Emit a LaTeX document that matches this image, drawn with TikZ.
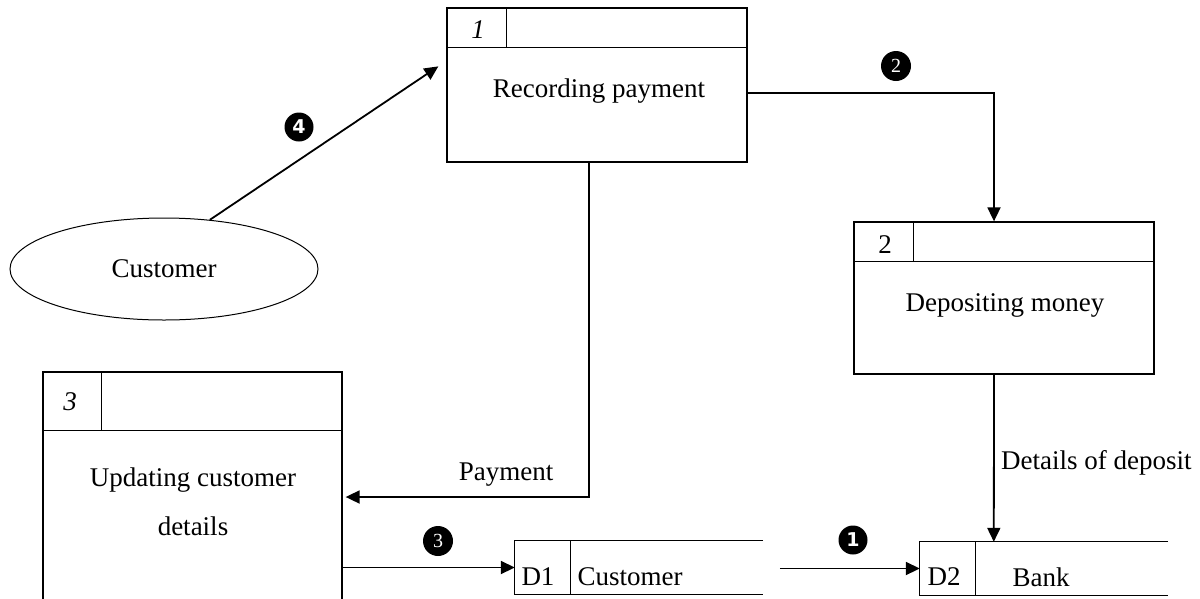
\documentclass[tikz,border=0pt]{standalone}
\usepackage{fontspec}
\setmainfont{Liberation Serif}
\newfontfamily\dvsans{DejaVu Sans}
\usetikzlibrary{shapes.geometric,arrows.meta,calc}
\begin{document}
\begin{tikzpicture}[x=1pt,y=-1pt,
  every node/.style={font=\fontsize{27}{32}\selectfont},
  proc/.style={draw,line width=1.3pt,rectangle,minimum width=300pt,inner sep=0pt},
  hdr/.style={line width=1.3pt},
  store/.style={rectangle,minimum width=248pt,minimum height=53pt,inner sep=0pt},
  storeline/.style={line width=1pt},
  flow/.style={line width=1.8pt,-{Triangle[length=14pt,width=13pt]}},
  numsans/.style={circle,fill=black,text=white,inner sep=0pt,minimum size=29pt,font=\dvsans\bfseries\fontsize{19}{19}\selectfont},
  numserif/.style={circle,fill=black,text=white,inner sep=0pt,minimum size=30pt,font=\fontsize{20}{20}\selectfont},
  lbl/.style={inner sep=0pt}]
\clip (0,0) rectangle (1200,598);
\fill[white] (0,0) rectangle (1200,598);

% process 1
\node[proc,minimum height=154pt] (p1) at (597,85) {};
\draw[hdr] ($(p1.north west)+(0,40)$) -- ($(p1.north east)+(0,40)$);
\draw[hdr] ($(p1.north west)+(60,0)$) -- ($(p1.north west)+(60,40)$);
\node[lbl,font=\itshape\fontsize{27}{32}\selectfont] (p1n) at (478,30) {1};
\node[lbl] (p1t) at (599,91) {Recording payment};

% process 2
\node[proc,minimum height=152pt] (p2) at (1004,298) {};
\draw[hdr] ($(p2.north west)+(0,40)$) -- ($(p2.north east)+(0,40)$);
\draw[hdr] ($(p2.north west)+(60,0)$) -- ($(p2.north west)+(60,40)$);
\node[lbl] (p2n) at (885,245) {2};
\node[lbl] (p2t) at (1005,305) {Depositing money};

% process 3
\node[proc,minimum width=299pt,minimum height=238pt] (p3) at (192.5,491) {};
\draw[hdr] ($(p3.north west)+(0,59)$) -- ($(p3.north east)+(0,59)$);
\draw[hdr] ($(p3.north west)+(59,0)$) -- ($(p3.north west)+(59,59)$);
\node[lbl,font=\itshape\fontsize{27}{32}\selectfont] (p3n) at (70,402) {3};
\node[lbl] (p3t1) at (193,480) {Updating customer};
\node[lbl] (p3t2) at (193,526) {details};

% external entity
\node[draw,ellipse,line width=1pt,inner sep=0pt,minimum width=308pt,minimum height=102pt] (cust) at (164,269) {Customer};

% data stores
\node[store] (d1) at (639,567.5) {};
\draw[storeline] (d1.north east) -- (d1.north west) -- (d1.south west) -- (d1.south east);
\draw[storeline] ($(d1.north west)+(56,0)$) -- ($(d1.south west)+(56,0)$);
\node[lbl] (d1n) at (538,577) {D1};
\node[lbl] (d1t) at (630,577) {Customer};

\node[store] (d2) at (1044,568.5) {};
\draw[storeline] (d2.north east) -- (d2.north west) -- (d2.south west) -- (d2.south east);
\draw[storeline] ($(d2.north west)+(56,0)$) -- ($(d2.south west)+(56,0)$);
\node[lbl] (d2n) at (944,577) {D2};
\node[lbl] (d2t) at (1041,577) {Bank};

% flows
\draw[flow] (cust.47) -- ($(p1.north west)+(-8,59)$);
\node[numsans] (n4) at (299,127) {4};

\coordinate (f2a) at ($(p1.east)+(0,8)$);
\draw[flow] (f2a) -| ($(p2.north)+(-10,0)$);
\node[numserif] (n2) at (896,66) {2};

\coordinate (fpa) at ($(p1.south)+(-8,0)$);
\coordinate (fpb) at ($(p3.east)+(3,6)$);
\draw[flow] (fpa) |- (fpb);
\node[lbl] (pay) at (506,475) {Payment};

\draw[flow] (p3.east |- d1.west) -- (d1.west);
\node[numserif] (n3) at (438,541) {3};

\coordinate (s1) at ($(d2.west)+(-140,0)$);
\draw[flow] (s1) -- (d2.west);
\node[numsans] (n1) at (853,540) {1};

\draw[flow] ($(p2.south)+(-10,0)$) -- ($(d2.north west)+(74,0)$);
\node[lbl,anchor=west] (dod) at (1001,463) {Details of deposit};
\end{tikzpicture}
\end{document}
